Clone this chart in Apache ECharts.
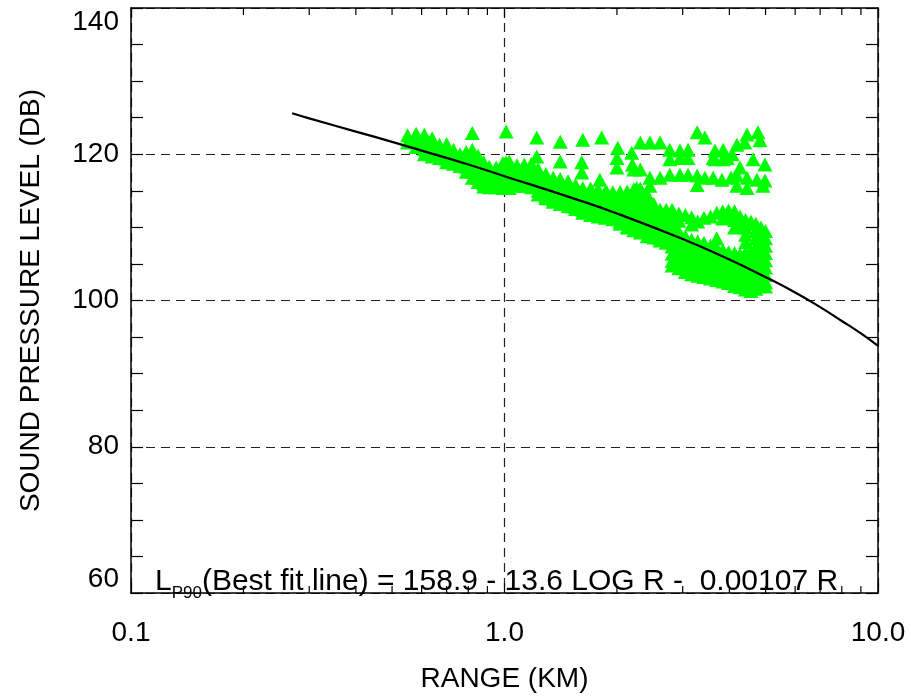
<!DOCTYPE html>
<html>
<head>
<meta charset="utf-8">
<script src="https://cdn.jsdelivr.net/npm/echarts@6/dist/echarts.min.js"></script>
<style>html,body{margin:0;padding:0;background:#fff}#c{width:911px;height:696px}</style>
</head>
<body>
<div id="c"></div>
<script>
// ---- data ----
const xTickLabels = ['0.1', '1.0', '10.0'];
const yTicks = [60, 80, 100, 120, 140];
const xMinorTicks = [0.2,0.3,0.4,0.5,0.6,0.7,0.8,0.9,2,3,4,5,6,7,8,9];

// best fit line
const fitR  = [0.27, 0.3, 0.4, 0.5, 0.6, 0.8, 1, 1.5, 2, 3, 4, 5, 6, 7, 8, 9, 10];
const fitDb = [125.6, 124.9, 123.1, 121.7, 120.5, 118.6, 117.0, 114.1, 111.9, 108.4, 105.6, 103.2, 101.1, 99.1, 97.2, 95.5, 93.8];

// main band of measurements: range column (km) and levels (dB) in that column
const bandR = [0.55,0.58,0.61,0.64,0.67,0.70,0.73,0.76,0.79,0.82,0.85,0.88,0.91,0.95,0.99,1.03,1.08,1.13,1.18,1.23,1.29,1.35,1.41,1.48,1.55,1.62,1.70,1.78,1.86,1.95,2.04,2.13,2.22,2.31,2.41,2.51,2.61,2.71,2.81,2.93,3.05,3.17,3.29,3.42,3.56,3.70,3.84,3.98,4.13,4.27,4.42,4.57,4.71,4.86,5.0];
const bandDb = [
  [122.6,121.6],
  [122.8,121.8,121.0],
  [122.7,121.7,120.7,120.0],
  [122.2,121.2,120.2,119.7],
  [121.3,120.4,119.5],
  [121.4,120.4,119.4,118.9],
  [120.6,119.6,118.7],
  [120.0,119.1,118.4],
  [120.3,119.3,118.3,117.6],
  [120.6,119.6,118.6,117.6,116.8],
  [119.8,118.8,117.8,116.8,116.2],
  [118.9,117.9,116.9,116.0,115.6],
  [118.3,117.4,116.5,115.5],
  [118.2,117.3,116.4,115.5],
  [118.8,117.8,116.8,116.0,115.4],
  [119.0,118.0,117.0,116.0,115.4],
  [118.5,117.5,116.5,115.7],
  [118.6,117.6,116.6,115.7],
  [118.7,117.7,116.7,115.8,115.5],
  [118.0,117.0,116.0,115.0,114.5],
  [117.3,116.3,115.3,114.3,114.0],
  [116.8,115.8,114.8,113.8,113.5],
  [116.6,115.6,114.6,113.6,113.2],
  [116.3,115.3,114.3,113.3,112.9],
  [115.8,114.8,113.8,112.8,112.5],
  [115.4,114.4,113.4,112.4,112.0],
  [115.3,114.3,113.3,112.3,111.7],
  [115.2,114.2,113.2,112.2,111.5],
  [114.8,113.8,112.8,111.8,111.3],
  [114.8,113.8,112.8,111.8,111.1],
  [114.8,113.8,112.8,111.8,110.8,110.5],
  [114.9,113.9,112.9,111.9,110.9,110.0],
  [115.2,114.2,113.2,112.2,111.2,110.2,109.6],
  [115.3,114.3,113.3,112.3,111.3,110.3,109.3],
  [114.5,113.5,112.5,111.5,110.5,109.5,108.8],
  [113.2,112.3,111.4,110.5,109.5,108.6],
  [112.4,111.4,110.5,109.5,108.5,108.2],
  [112.4,111.4,110.4,109.4,108.4,107.9],
  [112.4,111.4,110.4,109.4,108.4,107.4,106.4,105.4,104.8],
  [111.9,110.9,109.4,108.4,107.4,106.4,105.4,104.4],
  [111.7,108.8,107.8,106.8,105.8,104.8,103.9],
  [111.4,110.4,108.3,107.3,106.3,105.3,104.3,103.6],
  [110.8,108.1,107.1,106.1,105.1,104.1,103.4],
  [111.3,107.9,106.9,105.9,104.9,103.9,103.2],
  [111.5,107.5,106.5,105.5,104.5,103.5,103.0],
  [112.0,108.5,107.2,106.2,105.2,104.2,103.2,102.8],
  [112.2,111.2,106.9,105.9,104.9,103.9,102.9,102.6],
  [112.3,111.3,106.6,105.6,104.6,103.6,102.6,102.4],
  [112.2,111.0,110.0,106.5,105.5,104.5,103.5,102.5,102.0],
  [111.5,110.3,106.3,105.3,104.3,103.3,102.3,101.8],
  [111.0,110.0,109.0,108.0,106.5,105.0,104.0,103.0,102.0,101.5],
  [110.8,106.8,105.8,104.8,103.8,102.8,101.8,101.3],
  [110.5,109.5,108.5,107.3,106.3,105.3,104.3,103.3,102.3,101.6],
  [110.0,109.0,108.0,107.0,106.0,105.0,104.0,103.0,102.2],
  [109.5,108.5,107.5,106.5,105.5,104.5,103.5,102.5,101.9]
];

// scattered upper measurements: range (km) and level (dB)
const upperR  = [0.82,1.01,1.01,1.22,1.22,1.41,1.41,1.62,1.61,1.61,1.82,1.80,2.01,2.00,2.00,2.19,2.20,2.22,2.31,2.31,2.45,2.45,2.61,2.61,2.77,2.77,2.77,2.95,2.95,2.95,3.10,3.10,3.10,3.28,3.28,3.28,3.44,3.44,3.62,3.62,3.66,3.66,3.85,3.85,3.82,3.95,4.04,4.07,4.19,4.19,4.19,4.27,4.40,4.46,4.46,4.46,4.63,4.74,4.77,4.83,4.92,4.98,4.98,2.45,1.88,2.04,2.26];
const upperDb = [122.9,123.1,118.9,122.3,119.7,121.7,119.0,122.0,118.9,117.5,122.3,116.5,120.9,119.5,118.2,120.2,118.6,117.9,121.6,117.9,121.6,116.8,121.6,116.8,120.6,119.3,117.2,120.5,119.5,117.2,120.6,119.5,117.2,123.0,117.1,115.8,122.3,116.8,116.8,119.5,120.5,119.3,120.6,119.3,116.5,119.5,116.8,120.0,121.3,117.1,115.7,118.2,121.6,122.7,116.8,115.4,119.3,116.5,123.0,121.9,115.7,118.6,116.4,115.7,114.8,114.8,115.4];

// ---- build series data from the arrays ----
const scatterData = [];
bandR.forEach((r, i) => bandDb[i].forEach(v => scatterData.push([r, v])));
upperR.forEach((r, i) => scatterData.push([r, upperDb[i]]));
const fitData = fitR.map((r, i) => [r, fitDb[i]]);
const tickData = xMinorTicks.map(v => [v, 60]);

const FONT = '"Liberation Sans", Arial, Helvetica, sans-serif';
const dashStyle = { type: [9, 6], color: '#222', width: 1.2 };
const axisLineStyle = { lineStyle: { color: '#000', width: 1.5 } };

const chart = echarts.init(document.getElementById('c'), null, { renderer: 'canvas' });
chart.setOption({
  animation: false,
  backgroundColor: '#fff',
  grid: { left: 131, right: 33, top: 8, bottom: 103, containLabel: false, outerBoundsMode: 'none' },
  title: {
    left: 150, top: 556,
    text: '{a|L}{s|P90}{a|(Best fit line) = 158.9 - 13.6 LOG R -  0.00107 R}',
    textStyle: {
      fontWeight: 'normal',
      rich: {
        a: { fontFamily: FONT, fontSize: 30, fontWeight: 'normal', color: '#000', verticalAlign: 'middle' },
        s: { fontFamily: FONT, fontSize: 17, fontWeight: 'normal', color: '#000', verticalAlign: 'bottom', padding: [24, 0, 0, 0] }
      }
    }
  },
  xAxis: [
    {
      type: 'log', logBase: 10, min: 0.1, max: 10, position: 'bottom',
      name: 'RANGE (KM)', nameLocation: 'middle', nameGap: 72,
      nameTextStyle: { fontFamily: FONT, fontSize: 28, color: '#000' },
      axisLine: axisLineStyle,
      axisTick: { show: true, inside: true, length: 10, lineStyle: { color: '#000', width: 1.2 } },
      axisLabel: { fontFamily: FONT, fontSize: 28, color: '#000', margin: 26,
        formatter: v => { const i = Math.round(Math.log10(v)) + 1; return xTickLabels[i]; } },
      splitLine: { show: true, lineStyle: dashStyle }
    },
    {
      type: 'log', logBase: 10, min: 0.1, max: 10, position: 'top',
      axisLine: axisLineStyle,
      axisTick: { show: true, inside: true, length: 10, lineStyle: { color: '#000', width: 1.2 } },
      axisLabel: { show: false }, splitLine: { show: false }
    }
  ],
  yAxis: [
    {
      type: 'value', min: yTicks[0], max: yTicks[yTicks.length - 1], interval: 20, position: 'left',
      name: 'SOUND PRESSURE LEVEL (DB)', nameLocation: 'middle', nameGap: 86,
      nameTextStyle: { fontFamily: FONT, fontSize: 28, color: '#000' },
      axisLine: axisLineStyle,
      axisTick: { show: true, inside: true, length: 12, lineStyle: { color: '#000', width: 1.2 } },
      minorTick: { show: true, splitNumber: 4, length: 12, lineStyle: { color: '#000', width: 1.2 } },
      axisLabel: { fontFamily: FONT, fontSize: 28, color: '#000', margin: 12,
        verticalAlignMaxLabel: 'top', verticalAlignMinLabel: 'bottom' },
      splitLine: { show: true, lineStyle: dashStyle }
    },
    {
      type: 'value', min: yTicks[0], max: yTicks[yTicks.length - 1], interval: 20, position: 'right',
      axisLine: axisLineStyle,
      axisTick: { show: true, inside: true, length: 12, lineStyle: { color: '#000', width: 1.2 } },
      minorTick: { show: true, splitNumber: 4, length: 12, lineStyle: { color: '#000', width: 1.2 } },
      axisLabel: { show: false }, splitLine: { show: false }
    }
  ],
  series: [
    {
      type: 'scatter', data: scatterData, symbol: 'triangle', symbolSize: [15, 14],
      itemStyle: { color: '#00ff00', opacity: 1 }, z: 2, silent: true
    },
    {
      type: 'line', data: fitData, smooth: true, showSymbol: false, symbol: 'none',
      lineStyle: { color: '#000', width: 2.2 }, z: 3, silent: true
    },
    {
      type: 'custom', data: tickData, z: 4, silent: true,
      renderItem: (params, api) => {
        const x = api.coord([api.value(0), api.value(1)])[0];
        const cs = params.coordSys;
        const st = { stroke: '#000', lineWidth: 1.2 };
        return { type: 'group', children: [
          { type: 'line', shape: { x1: x, y1: cs.y + cs.height, x2: x, y2: cs.y + cs.height - 7 }, style: st },
          { type: 'line', shape: { x1: x, y1: cs.y, x2: x, y2: cs.y + 7 }, style: st }
        ] };
      }
    }
  ]
});
</script>
</body>
</html>
